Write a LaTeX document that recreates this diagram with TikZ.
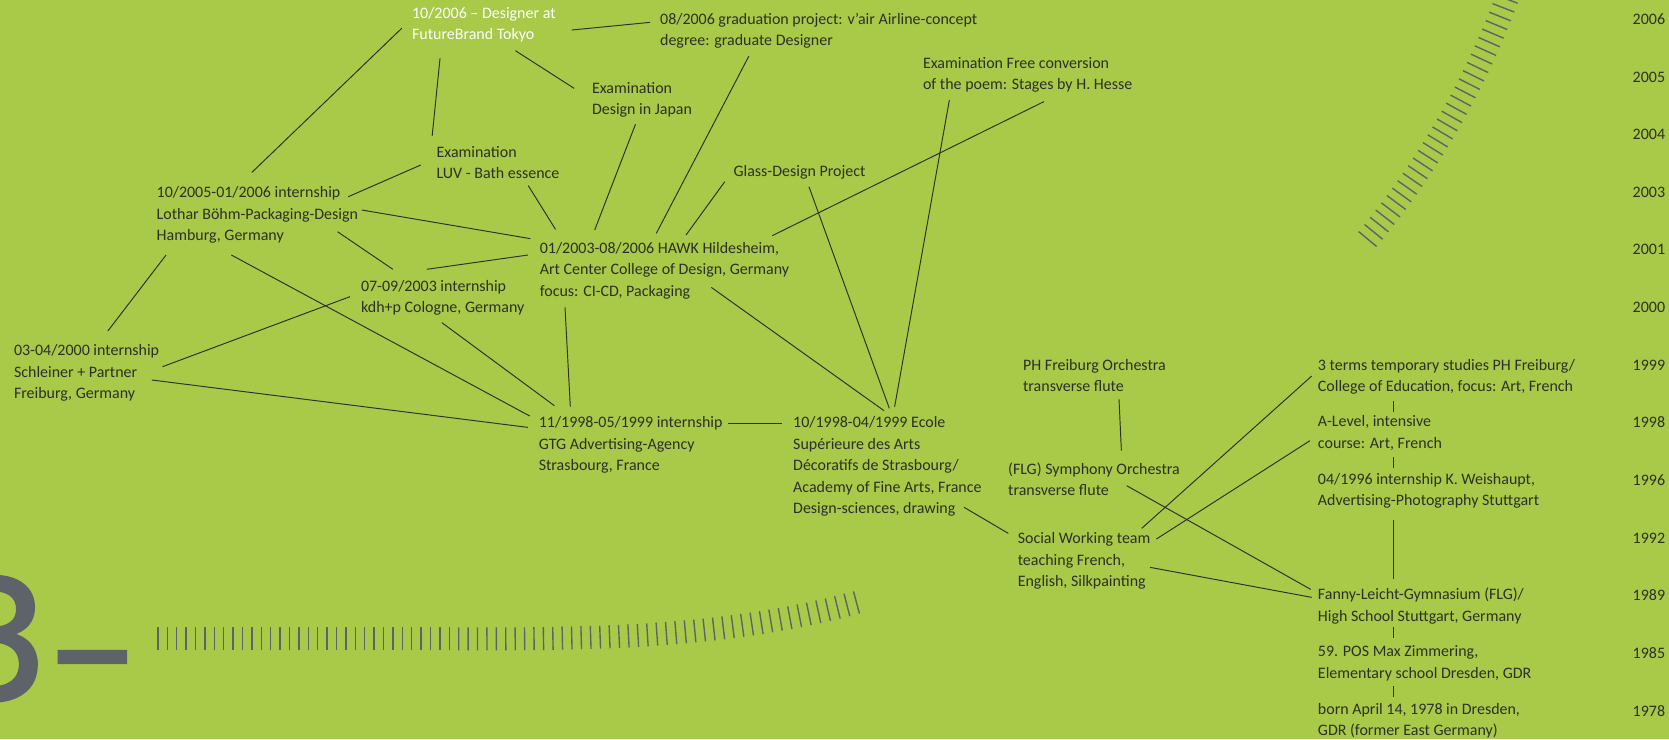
\documentclass[tikz,border=0pt]{standalone}
\usepackage{fontspec}
\setmainfont{Carlito}
\newfontfamily\bigfont{DejaVu Sans}[FakeBold=1.6]
\usepackage{xcolor}
\usepackage{graphicx}
\usetikzlibrary{calc}
\definecolor{leaf}{RGB}{169,201,72}
\definecolor{ink}{RGB}{45,48,40}
\definecolor{slate}{RGB}{94,99,106}

\begin{document}
\begin{tikzpicture}[x=1pt,y=-1pt,
  entry/.style={anchor=north west,inner sep=0pt,align=left,text=ink,font=\fontsize{15}{20.2}\selectfont},
  year/.style={anchor=base east,inner sep=0pt,text=ink,font=\fontsize{15}{20.2}\selectfont},
  link/.style={draw=ink,line width=0.9pt},
  hatch/.style={draw=slate,line width=1.3pt}]
\fill[leaf] (0,0) rectangle (1568,694.3);
\useasboundingbox (0,0) rectangle (1568,694.3);

\foreach \yr [count=\i from 0] in {2006,2005,2004,2003,2001,2000,1999,1998,1996,1992,1989,1985,1978}
  \node[year] (y\yr) at (1564.5,{22.9+54.15*\i}) {\yr};

\node[entry,text=white] (tokyo) at (387,6.5) {10/2006 -- Designer at\\FutureBrand Tokyo};
\node[entry] (grad) at (620,12) {08/2006 graduation project: v’air Airline-concept\\degree: graduate Designer};
\node[entry] (japan) at (556,77) {Examination\\Design in Japan};
\node[entry] (hesse) at (867,53.5) {Examination Free conversion\\of the poem: Stages by H. Hesse};
\node[entry] (luv) at (410,137) {Examination\\LUV - Bath essence};
\node[entry] (glass) at (689,155.6) {Glass-Design Project};
\node[entry] (boehm) at (147,175) {10/2005-01/2006 internship\\Lothar Böhm-Packaging-Design\\Hamburg, Germany};
\node[entry] (hawk) at (507,227.5) {01/2003-08/2006 HAWK Hildesheim,\\Art Center College of Design, Germany\\focus: CI-CD, Packaging};
\node[entry] (kdh) at (339,263) {07-09/2003 internship\\kdh+p Cologne, Germany};
\node[entry] (schleiner) at (13,323.5) {03-04/2000 internship\\Schleiner + Partner\\Freiburg, Germany};
\node[entry] (gtg) at (506,391.4) {11/1998-05/1999 internship\\GTG Advertising-Agency\\Strasbourg, France};
\node[entry] (ecole) at (745,391.4) {10/1998-04/1999 Ecole\\Supérieure des Arts\\Décoratifs de Strasbourg/\\Academy of Fine Arts, France\\Design-sciences, drawing};
\node[entry] (phorch) at (961,337) {PH Freiburg Orchestra\\transverse flute};
\node[entry] (flgorch) at (947,434.6) {(FLG) Symphony Orchestra\\transverse flute};
\node[entry] (social) at (956,500.4) {Social Working team\\teaching French,\\English, Silkpainting};
\node[entry] (terms) at (1238,337) {3 terms temporary studies PH Freiburg/\\College of Education, focus: Art, French};
\node[entry] (alevel) at (1238,390.5) {A-Level, intensive\\course: Art, French};
\node[entry] (weishaupt) at (1238,444.5) {04/1996 internship K. Weishaupt,\\Advertising-Photography Stuttgart};
\node[entry] (fanny) at (1238,552.5) {Fanny-Leicht-Gymnasium (FLG)/\\High School Stuttgart, Germany};
\node[entry] (pos) at (1238,606.5) {59. POS Max Zimmering,\\Elementary school Dresden, GDR};
\node[entry] (born) at (1238,660.5) {born April 14, 1978 in Dresden,\\GDR (former East Germany)};

\draw[link] ([shift={(-9.5,20)}]tokyo.north west) -- ([shift={(89.6,-13)}]boehm.north west);
\draw[link] ([shift={(26.4,48.3)}]tokyo.north west) -- ([shift={(-4,-9.2)}]luv.north west);
\draw[link] ([shift={(97.2,41.1)}]tokyo.north west) -- ([shift={(-16.6,6)}]japan.north west);
\draw[link] ([shift={(150.1,21.7)}]tokyo.north west) -- ([shift={(-9.3,9)}]grad.north west);
\draw[link] ([shift={(83.6,40.6)}]grad.north west) -- ([shift={(109.6,-8.3)}]hawk.north west);
\draw[link] ([shift={(41,39.8)}]japan.north west) -- ([shift={(51.7,-11.4)}]hawk.north west);
\draw[link] ([shift={(86.3,37.4)}]luv.north west) -- ([shift={(14.9,-12)}]hawk.north west);
\draw[link] ([shift={(-8.1,15.1)}]glass.north west) -- ([shift={(137.5,-6.7)}]hawk.north west);
\draw[link] ([shift={(113.7,42)}]hesse.north west) -- ([shift={(218.5,-6.1)}]hawk.north west);
\draw[link] ([shift={(24.9,40.5)}]hesse.north west) -- ([shift={(95.5,-9.3)}]ecole.north west);
\draw[link] ([shift={(71,19.8)}]glass.north west) -- ([shift={(90.5,-7.8)}]ecole.north west);
\draw[link] ([shift={(161.3,42.5)}]hawk.north west) -- ([shift={(85.5,-5.6)}]ecole.north west);
\draw[link] ([shift={(192.9,22.3)}]boehm.north west) -- ([shift={(-8.7,-3.3)}]hawk.north west);
\draw[link] ([shift={(180.2,9.8)}]boehm.north west) -- ([shift={(-14.7,18)}]luv.north west);
\draw[link] ([shift={(170.1,42.7)}]boehm.north west) -- ([shift={(30.1,-10)}]kdh.north west);
\draw[link] ([shift={(62,-10)}]kdh.north west) -- ([shift={(-11.1,12.1)}]hawk.north west);
\draw[link] ([shift={(9,64.6)}]boehm.north west) -- ([shift={(88.3,-12.5)}]schleiner.north west);
\draw[link] ([shift={(70.4,64.6)}]boehm.north west) -- ([shift={(-8.4,-0.6)}]gtg.north west);
\draw[link] ([shift={(76.1,40.1)}]kdh.north west) -- ([shift={(14.8,-10.3)}]gtg.north west);
\draw[link] ([shift={(139.7,21)}]schleiner.north west) -- ([shift={(-10.2,15.7)}]kdh.north west);
\draw[link] ([shift={(129.6,33.5)}]schleiner.north west) -- ([shift={(-10.1,10.1)}]gtg.north west);
\draw[link] ([shift={(23.8,61.2)}]hawk.north west) -- ([shift={(29.8,-9.3)}]gtg.north west);
\draw[link] ([shift={(178.3,6)}]gtg.north west) -- ([shift={(-10,6)}]ecole.north west);
\draw[link] ([shift={(160.7,85.2)}]ecole.north west) -- ([shift={(-8.7,0.7)}]social.north west);
\draw[link] ([shift={(90.3,38.2)}]phorch.north west) -- ([shift={(106.5,-11.2)}]flgorch.north west);
\draw[link] ([shift={(116.6,-4)}]social.north west) -- ([shift={(-5.7,16.3)}]terms.north west);
\draw[link] ([shift={(130.4,6)}]social.north west) -- ([shift={(-7.3,23.5)}]alevel.north west);
\draw[link] ([shift={(111.5,21.7)}]flgorch.north west) -- ([shift={(-6.6,1.2)}]fanny.north west);
\draw[link] ([shift={(124.4,32.6)}]social.north west) -- ([shift={(-5.7,8.7)}]fanny.north west);
\draw[link] ([shift={(71,39.4)}]terms.north west) -- ([shift={(71,-3.7)}]alevel.north west);
\draw[link] ([shift={(71,39.2)}]alevel.north west) -- ([shift={(71,-5.1)}]weishaupt.north west);
\draw[link] ([shift={(71,44)}]weishaupt.north west) -- ([shift={(71,-8.2)}]fanny.north west);
\draw[link] ([shift={(71,36.9)}]fanny.north west) -- ([shift={(71,-6.8)}]pos.north west);
\draw[link] ([shift={(71,38)}]pos.north west) -- ([shift={(71,-5.4)}]born.north west);

\foreach \a in {39.7,39.06,...,13}
  \draw[hatch] ($(684,-274.3)+(\a:770)$) -- ($(684,-274.3)+(\a:792)$);

\foreach \i in {0,...,74}{
  \pgfmathsetmacro\hx{148.4+8.83*\i}
  \pgfmathsetmacro\hf{max(0,\hx-422.8)/100}
  \pgfmathsetmacro\hy{589.5-0.623*\hf*\hf*\hf}
  \pgfmathsetmacro\hs{0.01869*\hf*\hf}
  \pgfmathsetmacro\hn{sqrt(1+\hs*\hs)}
  \draw[hatch] (\hx,\hy) -- ++({21.6*\hs/\hn},{21.6/\hn});
}

\node[anchor=base east,inner sep=0pt,text=slate,font=\bigfont\fontsize{156}{156}\selectfont] (pagenum) at (126,657) {3\kern1pt\raisebox{-3pt}{–}};
\end{tikzpicture}
\end{document}
